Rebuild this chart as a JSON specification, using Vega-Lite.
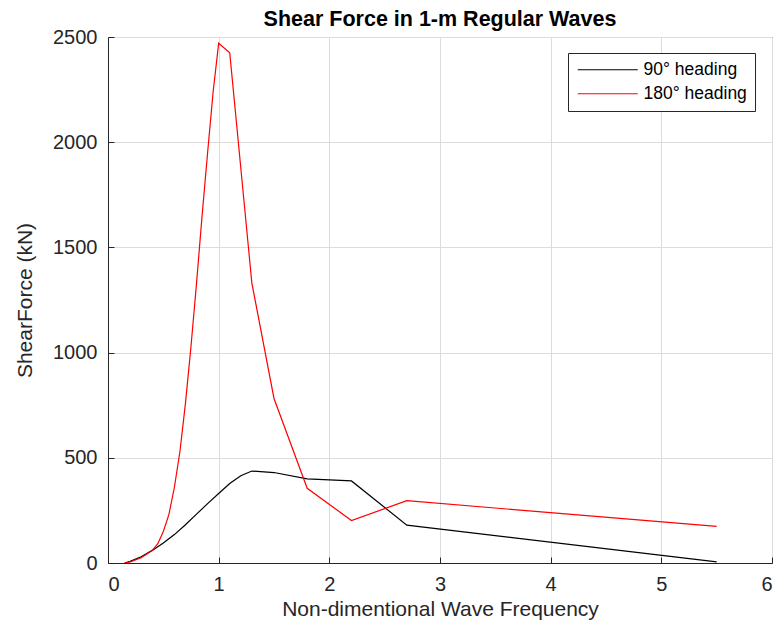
{
  "$schema": "https://vega.github.io/schema/vega-lite/v6.json",
  "width": 664,
  "height": 526,
  "autosize": {"type": "none"},
  "padding": {"left": 108, "top": 37, "right": 6, "bottom": 63},
  "background": "white",
  "title": {
    "text": "Shear Force in 1-m Regular Waves",
    "font": "Liberation Sans",
    "fontSize": 21.5,
    "fontWeight": "bold",
    "color": "#000000",
    "anchor": "middle",
    "frame": "group",
    "offset": -3
  },
  "config": {
    "view": {"stroke": "#262626", "strokeWidth": 1},
    "axis": {
      "labelFont": "Liberation Sans",
      "titleFont": "Liberation Sans",
      "labelFontSize": 20,
      "titleFontSize": 21,
      "titleFontWeight": "normal",
      "labelColor": "#262626",
      "titleColor": "#262626",
      "domainColor": "#262626",
      "tickColor": "#262626",
      "gridColor": "#dcdcdc",
      "gridWidth": 1,
      "tickSize": -6,
      "domainWidth": 1
    },
    "legend": {
      "labelFont": "Liberation Sans",
      "labelFontSize": 17.5,
      "labelColor": "#000000"
    }
  },
  "data": {
    "values": [
      {"f": 0.15, "v": 0, "h": "90° heading"},
      {"f": 0.2, "v": 8, "h": "90° heading"},
      {"f": 0.3, "v": 30, "h": "90° heading"},
      {"f": 0.4, "v": 60, "h": "90° heading"},
      {"f": 0.5, "v": 95, "h": "90° heading"},
      {"f": 0.6, "v": 135, "h": "90° heading"},
      {"f": 0.7, "v": 182, "h": "90° heading"},
      {"f": 0.8, "v": 232, "h": "90° heading"},
      {"f": 0.9, "v": 282, "h": "90° heading"},
      {"f": 1.0, "v": 330, "h": "90° heading"},
      {"f": 1.1, "v": 378, "h": "90° heading"},
      {"f": 1.2, "v": 415, "h": "90° heading"},
      {"f": 1.3, "v": 437, "h": "90° heading"},
      {"f": 1.5, "v": 430, "h": "90° heading"},
      {"f": 1.8, "v": 400, "h": "90° heading"},
      {"f": 2.2, "v": 390, "h": "90° heading"},
      {"f": 2.7, "v": 180, "h": "90° heading"},
      {"f": 5.5, "v": 5, "h": "90° heading"},
      {"f": 0.15, "v": 0, "h": "180° heading"},
      {"f": 0.2, "v": 5, "h": "180° heading"},
      {"f": 0.3, "v": 25, "h": "180° heading"},
      {"f": 0.4, "v": 60, "h": "180° heading"},
      {"f": 0.45, "v": 92, "h": "180° heading"},
      {"f": 0.5, "v": 150, "h": "180° heading"},
      {"f": 0.55, "v": 230, "h": "180° heading"},
      {"f": 0.6, "v": 360, "h": "180° heading"},
      {"f": 0.65, "v": 530, "h": "180° heading"},
      {"f": 0.7, "v": 760, "h": "180° heading"},
      {"f": 0.75, "v": 1030, "h": "180° heading"},
      {"f": 0.8, "v": 1330, "h": "180° heading"},
      {"f": 0.85, "v": 1650, "h": "180° heading"},
      {"f": 0.9, "v": 1950, "h": "180° heading"},
      {"f": 0.95, "v": 2240, "h": "180° heading"},
      {"f": 1.0, "v": 2470, "h": "180° heading"},
      {"f": 1.1, "v": 2425, "h": "180° heading"},
      {"f": 1.3, "v": 1330, "h": "180° heading"},
      {"f": 1.5, "v": 782, "h": "180° heading"},
      {"f": 1.8, "v": 355, "h": "180° heading"},
      {"f": 2.2, "v": 202, "h": "180° heading"},
      {"f": 2.7, "v": 296, "h": "180° heading"},
      {"f": 5.5, "v": 174, "h": "180° heading"}
    ]
  },
  "mark": {"type": "line", "strokeWidth": 1.2, "clip": true},
  "encoding": {
    "x": {
      "field": "f",
      "type": "quantitative",
      "scale": {"domain": [0, 6], "nice": false, "zero": false},
      "axis": {
        "title": "Non-dimentional Wave Frequency",
        "values": [0, 1, 2, 3, 4, 5, 6],
        "format": "d",
        "labelPadding": 17,
        "titlePadding": 4
      }
    },
    "y": {
      "field": "v",
      "type": "quantitative",
      "scale": {"domain": [0, 2500], "nice": false},
      "axis": {
        "title": "ShearForce (kN)",
        "values": [0, 500, 1000, 1500, 2000, 2500],
        "format": "d",
        "labelPadding": 17,
        "titlePadding": 17
      }
    },
    "color": {
      "field": "h",
      "type": "nominal",
      "scale": {"domain": ["90° heading", "180° heading"], "range": ["#000000", "#ff0000"]},
      "legend": {
        "title": null,
        "orient": "none",
        "legendX": 460,
        "legendY": 16,
        "symbolType": "M-6,0H6",
        "symbolSize": 100,
        "symbolStrokeWidth": 1.2,
        "symbolOffset": 23,
        "labelOffset": 27,
        "strokeColor": "#262626",
        "fillColor": "white",
        "padding": 8,
        "rowPadding": 5
      }
    },
    "order": {"field": "f", "type": "quantitative"}
  }
}
